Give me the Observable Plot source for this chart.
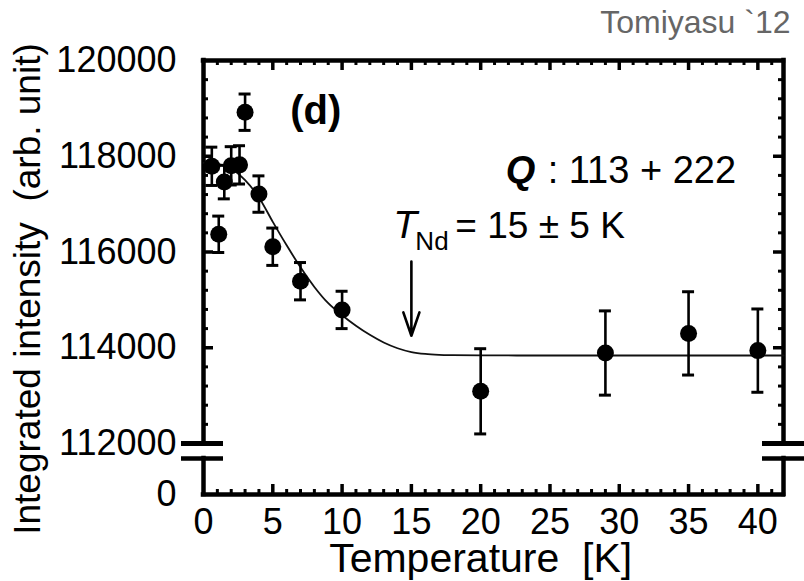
<!DOCTYPE html>
<html><head><meta charset="utf-8">
<script src="https://cdn.jsdelivr.net/npm/d3@7"></script>
<script src="https://cdn.jsdelivr.net/npm/@observablehq/plot@0.6"></script>
<style>
html,body{margin:0;padding:0;background:#fff;}
#chart{position:relative;width:804px;height:581px;overflow:hidden;font-family:"Liberation Sans",Arial,Helvetica,sans-serif;}
#chart svg{position:absolute;left:0;overflow:visible;}
</style></head><body><div id="chart"></div>
<script>
// ---- data ----
const temperature  = [0.6, 1.1, 1.5, 2.0, 2.6, 3.0, 4.0, 5.0, 7.0, 10.0, 20.0, 29.0, 35.0, 40.0];
const intensity    = [117790, 116370, 117460, 117800, 117820, 118920, 117210, 116110, 115390, 114790, 113090, 113890, 114300, 113940];
const intensityErr = [400, 380, 350, 400, 400, 380, 380, 390, 390, 390, 890, 880, 870, 870];
const fitT = [0, 1, 2, 3, 4, 5, 6, 7, 8, 9, 10, 11, 12, 13, 14, 15, 16, 17, 18, 20, 25, 30, 35, 41.85];
const fitI = [117860, 117840, 117740, 117500, 117140, 116630, 116140, 115680, 115270, 114930, 114680, 114460, 114270, 114110, 113990, 113910, 113870, 113852, 113845, 113840, 113838, 113838, 113838, 113838];
const xTicks = [0, 5, 10, 15, 20, 25, 30, 35, 40];
const yTicks = [112000, 114000, 116000, 118000, 120000];
const yLowTicks = [0];
const xLabel = "Temperature  [K]";
const yLabel = "Integrated intensity  (arb. unit)";
const panelLabel = "(d)";
const qBold = "Q";
const qText = ": 113 + 222";
const tSymbol = "T";
const tSub = "Nd";
const tText = "= 15 ± 5 K";
const credit = "Tomiyasu `12";
const tNd = 15;

// ---- layout ----
const W = 804;
const frameLeft = 203, frameRight = 783;
const topY = 60, breakY1 = 443, breakY2 = 458, bottomY = 494;
const xDomain = [0, 41.85];
const yDomain = [112000, 120000];
const font = "'Liberation Sans', Arial, Helvetica, sans-serif";
const kx = (xDomain[1] - xDomain[0]) / (frameRight - frameLeft);   // data units per px
const ky = (yDomain[1] - yDomain[0]) / (breakY1 - topY);

const points = temperature.map((T, i) => ({T, I: intensity[i], e: intensityErr[i]}));
const fit = fitT.map((T, i) => ({T, I: fitI[i]}));
const xMinor = d3.range(1, 42).filter(d => d % 5 !== 0);
const xMajor = xTicks.filter(d => d > 0);
const yMinor = d3.range(yDomain[0] + 400, yDomain[1], 400).filter(d => d % 2000 !== 0);
const yMajor = yTicks.filter(d => d > yDomain[0] && d < yDomain[1]);
const xMax = xDomain[1];
const frameW = 4.5, tickW = 3, minorLen = 5, majorLen = 10;
const tickFont = 36;

const topH = 450;
const topPlot = Plot.plot({
  width: W, height: topH,
  marginLeft: frameLeft, marginRight: W - frameRight, marginTop: topY, marginBottom: topH - breakY1,
  style: {fontFamily: font, background: "transparent"},
  x: {domain: xDomain, axis: null},
  y: {domain: yDomain, axis: null},
  marks: [
    Plot.axisY(yTicks, {anchor: "left", tickSize: 0, tickPadding: 27, tickFormat: d3.format("d"), fontSize: tickFont, label: null}),
    // inward ticks
    Plot.ruleX(xMinor, {x: d => d, y1: yDomain[1], y2: yDomain[1] - minorLen * ky, strokeWidth: tickW}),
    Plot.ruleX(xMajor, {x: d => d, y1: yDomain[1], y2: yDomain[1] - majorLen * ky, strokeWidth: tickW + 0.5}),
    Plot.ruleY(yMinor, {y: d => d, x1: xDomain[0], x2: xDomain[0] + minorLen * kx, strokeWidth: tickW}),
    Plot.ruleY(yMajor, {y: d => d, x1: xDomain[0], x2: xDomain[0] + majorLen * kx, strokeWidth: tickW + 0.5}),
    Plot.ruleY(yMinor, {y: d => d, x1: xMax, x2: xMax - minorLen * kx, strokeWidth: tickW}),
    Plot.ruleY(yMajor, {y: d => d, x1: xMax, x2: xMax - majorLen * kx, strokeWidth: tickW + 0.5}),
    // frame (left, right, top)
    Plot.ruleX([xDomain[0], xMax], {strokeWidth: frameW, strokeLinecap: "square"}),
    Plot.ruleY([yDomain[1]], {strokeWidth: frameW, strokeLinecap: "square"}),
    // axis break marks
    Plot.ruleY([yDomain[0]], {x1: xDomain[0] - 22 * kx, x2: xDomain[0] + 20 * kx, strokeWidth: 5}),
    Plot.ruleY([yDomain[0]], {x1: xMax - 21 * kx, x2: xMax + 22 * kx, strokeWidth: 5}),
    // fit curve
    Plot.line(fit, {x: "T", y: "I", curve: "monotone-x", stroke: "#111", strokeWidth: 1.8}),
    // error bars
    Plot.ruleX(points, {x: "T", y1: d => d.I - d.e, y2: d => d.I + d.e, strokeWidth: 2.6}),
    Plot.ruleY(points, {y: d => d.I + d.e, x1: d => d.T - 6 * kx, x2: d => d.T + 6 * kx, strokeWidth: 3}),
    Plot.ruleY(points, {y: d => d.I - d.e, x1: d => d.T - 6 * kx, x2: d => d.T + 6 * kx, strokeWidth: 3}),
    Plot.dot(points, {x: "T", y: "I", r: 8.5, fill: "black", stroke: null}),
    // T_Nd arrow
    Plot.arrow([tNd], {x1: d => d, x2: d => d, y1: 115800, y2: 114250, strokeWidth: 2.6, headLength: 22, headAngle: 38}),
    // annotations
    Plot.text([panelLabel], {x: 8.1, y: 118950, text: d => d, fontSize: 40, fontWeight: "bold"}),
    Plot.text([qBold], {x: 21.8, y: 117700, text: d => d, fontSize: 38, fontWeight: "bold", fontStyle: "italic", textAnchor: "start"}),
    Plot.text([qText], {x: 21.8, y: 117700, dx: 42, text: d => d, fontSize: 38, textAnchor: "start"}),
    Plot.text([tSymbol], {x: 13.7, y: 116550, text: d => d, fontSize: 39, fontStyle: "italic", textAnchor: "start"}),
    Plot.text([tSub], {x: 13.7, y: 116550, dx: 22, dy: 16, text: d => d, fontSize: 26, textAnchor: "start"}),
    Plot.text([tText], {x: 13.7, y: 116550, dx: 62, text: d => d, fontSize: 37, textAnchor: "start"}),
    // y title and credit
    Plot.text([yLabel], {frameAnchor: "left", rotate: -90, dx: -175, dy: 37, text: d => d, fontSize: 37, textAnchor: "middle", lineAnchor: "middle"}),
    Plot.text([credit], {frameAnchor: "top-right", dx: 7, dy: -38, text: d => d, fontSize: 32, fill: "#666", textAnchor: "end", lineAnchor: "middle"})
  ]
});
topPlot.style.top = "0px";

const lowTop = 450, lowH = 131, lowMT = breakY2 - lowTop, lowFrame = bottomY - breakY2;
const kyLow = 1 / lowFrame;
const lowPlot = Plot.plot({
  width: W, height: lowH,
  marginLeft: frameLeft, marginRight: W - frameRight, marginTop: lowMT, marginBottom: lowH - lowMT - lowFrame,
  style: {fontFamily: font, background: "transparent"},
  x: {domain: xDomain, axis: null},
  y: {domain: [0, 1], axis: null},
  marks: [
    Plot.axisY(yLowTicks, {anchor: "left", tickSize: 0, tickPadding: 27, tickFormat: d => d, fontSize: tickFont, label: null}),
    Plot.axisX(xTicks, {anchor: "bottom", tickSize: 0, tickPadding: 14, tickFormat: d => d, fontSize: tickFont, label: null}),
    Plot.ruleX(xMinor, {x: d => d, y1: 0, y2: minorLen * kyLow, strokeWidth: tickW}),
    Plot.ruleX(xMajor, {x: d => d, y1: 0, y2: majorLen * kyLow, strokeWidth: tickW + 0.5}),
    Plot.ruleX([xDomain[0], xMax], {strokeWidth: frameW, strokeLinecap: "square"}),
    Plot.ruleY([0], {strokeWidth: frameW, strokeLinecap: "square"}),
    Plot.ruleY([1], {x1: xDomain[0] - 22 * kx, x2: xDomain[0] + 20 * kx, strokeWidth: 4.5}),
    Plot.ruleY([1], {x1: xMax - 21 * kx, x2: xMax + 22 * kx, strokeWidth: 4.5}),
    Plot.text([xLabel], {x: 20, frameAnchor: "bottom", dy: 64, text: d => d, fontSize: 41, lineAnchor: "middle"})
  ]
});
lowPlot.style.top = lowTop + "px";

document.getElementById("chart").append(topPlot, lowPlot);
</script></body></html>
